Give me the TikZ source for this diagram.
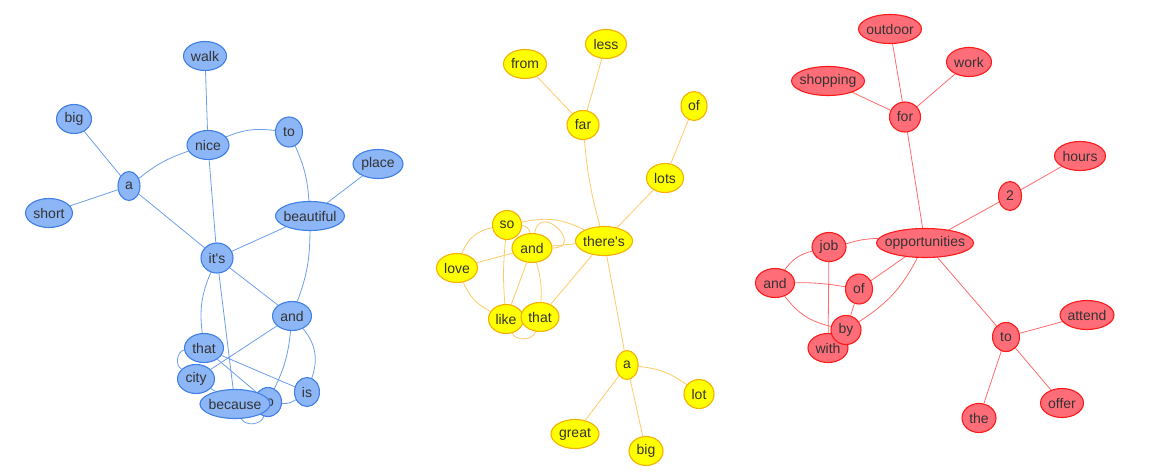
\documentclass[tikz,border=0pt]{standalone}
\usepackage{fontspec}
\setmainfont{Liberation Sans}
\usetikzlibrary{shapes.geometric}
\pgfdeclarelayer{bg}
\pgfsetlayers{bg,main}
\definecolor{txtgray}{HTML}{333333}
\definecolor{bfill}{HTML}{8DB6F7}
\definecolor{bline}{HTML}{3F7FE6}
\definecolor{bedge}{HTML}{6D9EEB}
\definecolor{yfill}{HTML}{FFFF00}
\definecolor{yline}{HTML}{F5B000}
\definecolor{yedge}{HTML}{FFC966}
\definecolor{rfill}{HTML}{FF6E78}
\definecolor{rline}{HTML}{FF1A1A}
\definecolor{redge}{HTML}{FF6B6B}
\tikzset{
    word/.style={ellipse, inner sep=0pt, minimum height=29pt, text=txtgray, line width=1.1pt,
        font=\fontsize{14}{16}\selectfont,
        execute at begin node=\hbox to 0pt\bgroup\hss, execute at end node=\hss\egroup},
    nw/.style={minimum width=#1pt},
    bword/.style={word, fill=bfill, draw=bline},
    yword/.style={word, fill=yfill, draw=yline},
    rword/.style={word, fill=rfill, draw=rline},
    bln/.style={draw=bedge, line width=0.8pt},
    yln/.style={draw=yedge, line width=0.8pt},
    rln/.style={draw=redge, line width=0.8pt}
}

\begin{document}
\begin{tikzpicture}[x=1pt,y=-1pt]
    \useasboundingbox (0,0) rectangle (1161,473);

    % blue tree
    \node[bword, nw=43] (bwalk) at (205,56) {walk};
    \node[bword, nw=35] (bbig) at (74,119) {big};
    \node[bword, nw=42] (bnice) at (208,145) {nice};
    \node[bword, nw=27, minimum height=30pt] (bto) at (289,132) {to};
    \node[bword, nw=50] (bplace) at (378,164) {place};
    \node[bword, nw=22] (ba) at (129,186) {a};
    \node[bword, nw=47] (bshort) at (49,213) {short};
    \node[bword, nw=69] (bbeaut) at (310,216) {beautiful};
    \node[bword, nw=32, minimum height=30pt] (bits) at (217,258) {it\textquotesingle s};
    \node[bword, nw=39] (band) at (292,316) {and};
    \node[bword, nw=39] (bthat) at (204,348) {that};
    \node[bword, nw=37] (bcity) at (196,379) {city};
    \node[bword, nw=25] (bis) at (307,392) {is};
    \node[bword, nw=27] (bto2) at (268,402) {to};
    \node[bword, nw=70] (bbecause) at (235,404) {because};

    % yellow tree
    \node[yword, nw=41] (yless) at (606,44) {less};
    \node[yword, nw=43] (yfrom) at (525,64) {from};
    \node[yword, nw=32] (yfar) at (583,125) {far};
    \node[yword, nw=26] (yof) at (694,106) {of};
    \node[yword, nw=37] (ylots) at (665,178) {lots};
    \node[yword, nw=57] (ythere) at (604,241) {there\textquotesingle s};
    \node[yword, nw=29] (yso) at (507,225) {so};
    \node[yword, nw=40] (yand) at (532,248) {and};
    \node[yword, nw=41] (ylove) at (457,268) {love};
    \node[yword, nw=35] (ylike) at (506,319) {like};
    \node[yword, nw=38] (ythat) at (540,317) {that};
    \node[yword, nw=22] (ya) at (627,365) {a};
    \node[yword, nw=30] (ylot) at (699,394) {lot};
    \node[yword, nw=48] (ygreat) at (575,434) {great};
    \node[yword, nw=34] (ybig) at (646,451) {big};

    % red tree
    \node[rword, nw=63] (routdoor) at (890,29) {outdoor};
    \node[rword, nw=45] (rwork) at (969,62) {work};
    \node[rword, nw=73] (rshop) at (828,81) {shopping};
    \node[rword, nw=31, minimum height=30pt] (rfor) at (905,117) {for};
    \node[rword, nw=51] (rhours) at (1080,156) {hours};
    \node[rword, nw=23] (rtwo) at (1010,196) {2};
    \node[rword, nw=97] (ropp) at (925,243) {opportunities};
    \node[rword, nw=34] (rjob) at (829,247) {job};
    \node[rword, nw=39] (rand) at (775,283) {and};
    \node[rword, nw=27, minimum height=30pt] (rof) at (859,289) {of};
    \node[rword, nw=40] (rwith) at (828,348) {with};
    \node[rword, nw=30] (rby) at (846,330) {by};
    \node[rword, nw=27] (rto) at (1006,337) {to};
    \node[rword, nw=54] (rattend) at (1087,315) {attend};
    \node[rword, nw=34] (rthe) at (979,418) {the};
    \node[rword, nw=43] (roffer) at (1062,403) {offer};

    \begin{pgfonlayer}{bg}
        \draw[bln] (bwalk) -- (bnice);
        \draw[bln] (bbig) -- (ba);
        \draw[bln] (bshort) -- (ba);
        \draw[bln] (ba) to[bend left=10] (bnice);
        \draw[bln] (ba) -- (bits);
        \draw[bln] (bnice) to[bend left=15] (bto);
        \draw[bln] (bnice) -- (bits);
        \draw[bln] (bto) to[bend left=10] (bbeaut);
        \draw[bln] (bplace) -- (bbeaut);
        \draw[bln] (bbeaut) -- (bits);
        \draw[bln] (bbeaut) to[bend left=10] (band);
        \draw[bln] (bits) -- (band);
        \draw[bln] (bits) to[bend right=15] (bthat);
        \draw[bln] (bits) -- (bbecause);
        \draw[bln] (band) -- (bcity);
        \draw[bln] (band) to[bend left=10] (bto2);
        \draw[bln] (band) to[bend left=30] (bis);
        \draw[bln] (bthat) -- (bis);
        \draw[bln] (bthat) -- (bto2);
        \draw[bln] (bthat) to[bend right=70] (bcity);
        \draw[bln] (bcity) -- (bbecause);
        \draw[bln] (bis) to[bend left=20] (bto2);
        \draw[bln] (bbecause) to[bend right=70] (bto2);

        \draw[yln] (yfrom) -- (yfar);
        \draw[yln] (yless) -- (yfar);
        \draw[yln] (yfar) to[bend right=5] (ythere);
        \draw[yln] (yof) -- (ylots);
        \draw[yln] (ylots) -- (ythere);
        \draw[yln] (ythere) -- (ya);
        \draw[yln] (ya) to[bend left=15] (ylot);
        \draw[yln] (ya) -- (ygreat);
        \draw[yln] (ya) -- (ybig);
        \draw[yln] (yso) to[bend left=20] (ythere);
        \draw[yln] (yand) -- (ythere);
        \draw[yln] (yand) to[out=80,in=0,looseness=3.6] (yand);
        \draw[yln] (yso) to[bend right=30] (ylove);
        \draw[yln] (ylove) -- (yand);
        \draw[yln] (ylove) to[bend right=20] (ylike);
        \draw[yln] (yso) to[bend right=5] (ylike);
        \draw[yln] (yso) to[bend left=40] (yand);
        \draw[yln] (yand) -- (ylike);
        \draw[yln] (yand) to[bend left=10] (ythat);
        \draw[yln] (ythat) -- (ythere);
        \draw[yln] (ylike) to[bend right=70] (ythat);

        \draw[rln] (routdoor) -- (rfor);
        \draw[rln] (rshop) -- (rfor);
        \draw[rln] (rwork) -- (rfor);
        \draw[rln] (rfor) -- (ropp);
        \draw[rln] (rhours) -- (rtwo);
        \draw[rln] (rtwo) -- (ropp);
        \draw[rln] (ropp) -- (rto);
        \draw[rln] (rto) -- (rattend);
        \draw[rln] (rto) -- (rthe);
        \draw[rln] (rto) -- (roffer);
        \draw[rln] (rjob) to[bend left=8] (ropp);
        \draw[rln] (rjob) to[bend right=20] (rand);
        \draw[rln] (rjob) -- (rwith);
        \draw[rln] (rand) to[bend left=5] (rof);
        \draw[rln] (rand) to[bend right=20] (rby);
        \draw[rln] (rof) -- (ropp);
        \draw[rln] (rof) -- (rby);
        \draw[rln] (rby) to[bend right=15] (ropp);
    \end{pgfonlayer}
\end{tikzpicture}
\end{document}
